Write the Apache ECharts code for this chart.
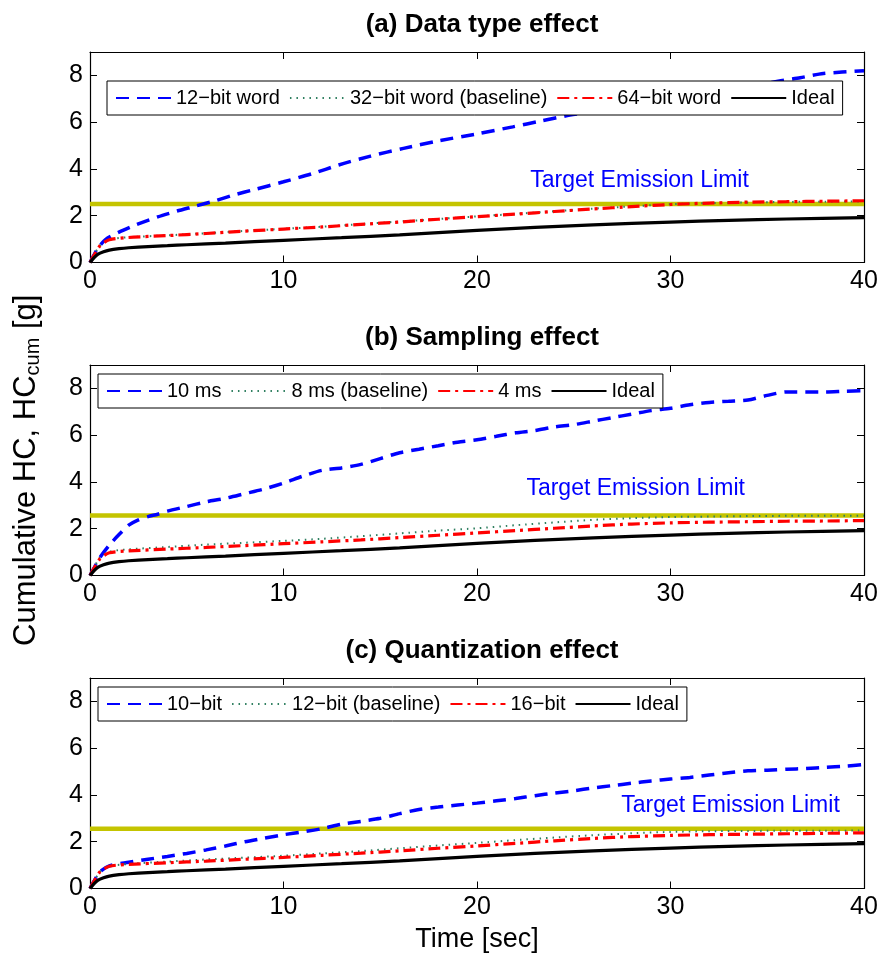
<!DOCTYPE html>
<html><head><meta charset="utf-8">
<script src="https://cdn.jsdelivr.net/npm/echarts@6/dist/echarts.min.js"></script>
<style>html,body{margin:0;padding:0;background:#fff}#c{width:885px;height:963px}</style>
</head><body><div id="c"></div><script>
// ---------- data ----------
const panelTitles = ['(a) Data type effect', '(b) Sampling effect', '(c) Quantization effect'];
const xTicks = [0, 10, 20, 30, 40];
const yTicks = [0, 2, 4, 6, 8];
const namesA = ['12\u2212bit word', '32\u2212bit word (baseline)', '64\u2212bit word', 'Ideal'];
const namesB = ['10 ms', '8 ms (baseline)', '4 ms', 'Ideal'];
const namesC = ['10\u2212bit', '12\u2212bit (baseline)', '16\u2212bit', 'Ideal'];
const limitValues = [2.5, 2.57, 2.55];
const limitLabel = 'Target Emission Limit';
const limitLabelX = [28.4, 28.2, 33.1];
const limitLabelY = [3.52, 3.72, 3.55];

const ideal = [[0,0],[0.2,0.2],[0.4,0.35],[0.7,0.46],[1,0.53],[1.5,0.59],[2,0.63],[3,0.68],[4,0.72],[5,0.76],[7,0.83],[10,0.95],[13,1.06],[16,1.18],[20,1.37],[23,1.5],[26,1.61],[30,1.73],[33,1.8],[36,1.86],[40,1.92]];

const blueA = [[0,0],[0.4,0.6],[0.8,0.98],[1.5,1.3],[2.4,1.62],[3.5,1.95],[4.5,2.2],[5.4,2.4],[6.5,2.65],[7.4,2.88],[8.5,3.12],[10,3.45],[11.5,3.8],[12.85,4.17],[14.5,4.55],[16.2,4.88],[18,5.2],[20,5.5],[21.85,5.8],[23.3,6.05],[24.8,6.3],[26.4,6.5],[28,6.7],[30,6.95],[31.5,7.1],[33,7.35],[34.6,7.6],[35.7,7.77],[36.7,7.9],[37.9,8.08],[40,8.2]];
const greenA = [[0,0],[0.5,0.72],[1,0.98],[2,1.08],[4,1.16],[6,1.25],[8,1.35],[10,1.44],[12,1.53],[14,1.64],[16,1.75],[18,1.86],[20,1.97],[22,2.08],[24,2.19],[26,2.3],[28,2.4],[30,2.49],[32,2.54],[34,2.57],[36,2.59],[38,2.6],[40,2.61]];
const redA = [[0,0],[0.5,0.7],[1,0.97],[2,1.07],[4,1.15],[6,1.24],[8,1.34],[10,1.43],[12,1.52],[14,1.63],[16,1.73],[18,1.85],[20,1.96],[22,2.07],[24,2.18],[26,2.29],[28,2.39],[30,2.48],[32,2.54],[34,2.58],[36,2.6],[38,2.62],[40,2.64]];

const blueB = [[0,0],[0.5,0.75],[1,1.3],[1.5,1.75],[2,2.15],[2.5,2.38],[3,2.52],[3.5,2.62],[4,2.75],[5,2.95],[6,3.15],[7,3.3],[8,3.5],[9,3.7],[10,3.95],[11,4.25],[12,4.5],[13,4.6],[14,4.75],[15,5.0],[16,5.25],[17,5.4],[18,5.55],[19,5.7],[20,5.8],[21,5.95],[22,6.1],[23,6.2],[24,6.35],[25,6.45],[26,6.6],[27,6.75],[28,6.9],[29,7.05],[30,7.15],[31,7.3],[32,7.4],[33,7.45],[34,7.5],[35,7.7],[36,7.85],[37,7.85],[38,7.85],[39,7.88],[40,7.9]];
const greenB = [[0,0],[0.5,0.75],[1,1.02],[2,1.12],[4,1.22],[6,1.32],[8,1.4],[10,1.48],[12,1.57],[14,1.68],[16,1.8],[18,1.92],[20,2.02],[22,2.15],[24,2.27],[26,2.38],[28,2.45],[30,2.5],[32,2.52],[34,2.54],[36,2.55],[38,2.55],[40,2.56]];
const redB = [[0,0],[0.5,0.7],[1,0.97],[2,1.05],[4,1.13],[6,1.2],[8,1.28],[10,1.36],[12,1.44],[14,1.52],[16,1.62],[18,1.72],[20,1.82],[22,1.92],[24,2.02],[26,2.12],[28,2.2],[30,2.25],[32,2.28],[34,2.3],[36,2.32],[38,2.33],[40,2.35]];

const blueC = [[0,0],[0.5,0.7],[1,0.97],[2,1.12],[3,1.25],[4,1.37],[5,1.5],[6,1.65],[7,1.82],[8,2.0],[9,2.15],[10,2.3],[11,2.42],[12,2.56],[13,2.75],[14,2.87],[15,3.0],[16,3.2],[17,3.38],[18,3.48],[19,3.57],[20,3.65],[21,3.75],[22,3.85],[23,3.97],[24,4.08],[25,4.18],[26,4.3],[27,4.4],[28,4.5],[29,4.6],[30,4.68],[31,4.75],[32,4.85],[33,4.95],[34,5.03],[35,5.06],[36,5.1],[37,5.13],[38,5.18],[39,5.23],[40,5.3]];
const greenC = [[0,0],[0.5,0.7],[1,0.95],[2,1.05],[4,1.15],[6,1.24],[8,1.32],[10,1.4],[12,1.5],[14,1.6],[16,1.72],[18,1.84],[20,1.95],[22,2.07],[24,2.18],[26,2.28],[28,2.36],[30,2.42],[32,2.45],[34,2.46],[36,2.47],[38,2.47],[40,2.48]];
const redC = [[0,0],[0.5,0.7],[1,0.95],[2,1.03],[4,1.1],[6,1.17],[8,1.25],[10,1.33],[12,1.42],[14,1.51],[16,1.61],[18,1.72],[20,1.82],[22,1.93],[24,2.04],[26,2.14],[28,2.22],[30,2.27],[32,2.3],[34,2.32],[36,2.34],[38,2.36],[40,2.38]];

// ---------- styling / layout ----------
const FONT = "'Liberation Sans', Arial, Helvetica, sans-serif";
const gridTops = [52, 365, 678];
const gridH = 210.5;
const legendPos = [[107, 81], [98, 374], [98, 687]];
const styles = [
  {color: '#0000ff', width: 3.5, type: [13, 8]},
  {color: '#2f7f60', width: 2, type: [1.5, 5]},
  {color: '#ff0000', width: 3.2, type: [12, 5, 3, 5]},
  {color: '#000000', width: 3.2, type: 'solid'}
];
const panels = [
  {names: namesA, data: [blueA, greenA, redA, ideal]},
  {names: namesB, data: [blueB, greenB, redB, ideal]},
  {names: namesC, data: [blueC, greenC, redC, ideal]}
];

const grid = [], xAxis = [], yAxis = [], series = [], legend = [], title = [];
const axisLineStyle = {show: true, onZero: false, lineStyle: {color: '#000', width: 1.2}};
const tickStyle = {show: true, inside: true, length: 7, lineStyle: {color: '#000', width: 1}};

panels.forEach((p, i) => {
  grid.push({left: 90, right: 21, top: gridTops[i], height: gridH, containLabel: false});
  title.push({text: panelTitles[i], left: 477, top: gridTops[i] - 45, textAlign: 'center',
    textStyle: {fontFamily: FONT, fontSize: 26, fontWeight: 'bold', color: '#000'}});
  const xb = {type: 'value', gridIndex: i, position: 'bottom', min: xTicks[0], max: xTicks[xTicks.length - 1],
    interval: 10, axisLine: axisLineStyle, axisTick: tickStyle, splitLine: {show: false},
    axisLabel: {show: true, margin: 6, fontFamily: FONT, fontSize: 25, color: '#000'}};
  if (i === 2) {
    xb.name = 'Time [sec]';
    xb.nameLocation = 'middle';
    xb.nameGap = 38;
    xb.nameTextStyle = {fontFamily: FONT, fontSize: 27, color: '#000'};
  }
  xAxis.push(xb);
  xAxis.push({type: 'value', gridIndex: i, position: 'top', min: 0, max: 40, interval: 10,
    axisLine: axisLineStyle, axisTick: tickStyle, axisLabel: {show: false}, splitLine: {show: false}});
  const yl = {type: 'value', gridIndex: i, position: 'left', min: 0, max: 9, interval: 2,
    axisLine: axisLineStyle, axisTick: tickStyle, splitLine: {show: false},
    axisLabel: {show: true, margin: 7, fontFamily: FONT, fontSize: 25, color: '#000', showMaxLabel: false,
      formatter: v => (yTicks.indexOf(v) >= 0 ? String(v) : '')}};
  if (i === 1) {
    yl.name = 'Cumulative HC, HC{sub|cum} [g]';
    yl.nameLocation = 'middle';
    yl.nameGap = 47;
    yl.nameTextStyle = {fontFamily: FONT, fontSize: 31, color: '#000',
      rich: {sub: {fontFamily: FONT, fontSize: 20, color: '#000', padding: [14, 0, 0, 0]}}};
  }
  yAxis.push(yl);
  yAxis.push({type: 'value', gridIndex: i, position: 'right', min: 0, max: 9, interval: 2,
    axisLine: axisLineStyle, axisTick: tickStyle, axisLabel: {show: false}, splitLine: {show: false}});

  // target emission limit line
  series.push({
    name: 'limit' + i, type: 'line', xAxisIndex: 2 * i, yAxisIndex: 2 * i, symbol: 'none',
    data: [[0, limitValues[i]], [40, limitValues[i]]],
    lineStyle: {color: '#c4c400', width: 4.5}, z: 1, silent: true,
    markPoint: {symbol: 'circle', symbolSize: 0, silent: true,
      data: [{coord: [limitLabelX[i], limitLabelY[i]]}],
      label: {show: true, position: 'inside', formatter: limitLabel, fontFamily: FONT, fontSize: 23, color: '#0000ff'}}
  });
  p.names.forEach((n, k) => {
    series.push({
      name: n, type: 'line', xAxisIndex: 2 * i, yAxisIndex: 2 * i, symbol: 'none', showSymbol: false,
      data: p.data[k], smooth: 0.25, z: 2 + k,
      itemStyle: {color: styles[k].color},
      lineStyle: {color: styles[k].color, width: styles[k].width, type: styles[k].type}
    });
  });
  legend.push({
    data: p.names, left: legendPos[i][0], top: legendPos[i][1], orient: 'horizontal',
    itemWidth: 55, itemHeight: 14, itemGap: 9, padding: [7, 8],
    borderColor: '#000', borderWidth: 1, backgroundColor: '#fff', borderRadius: 0,
    selectedMode: false,
    itemStyle: {opacity: 0, borderWidth: 0},
    textStyle: {fontFamily: FONT, fontSize: 20, color: '#000'}
  });
});

const chart = echarts.init(document.getElementById('c'), null, {renderer: 'canvas'});
chart.setOption({
  animation: false, backgroundColor: '#fff',
  title, grid, xAxis, yAxis, legend, series
});
</script></body></html>
